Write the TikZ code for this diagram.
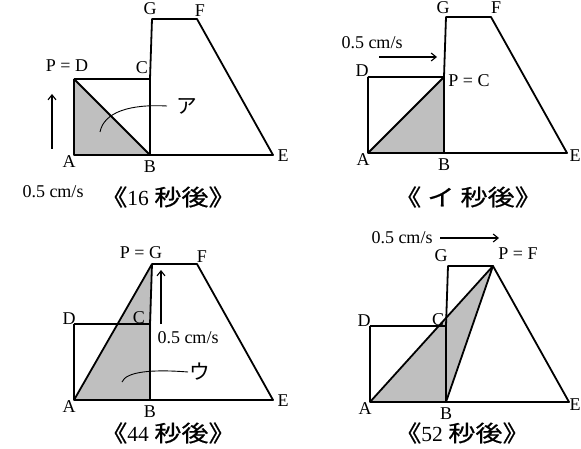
\documentclass[tikz,border=0pt]{standalone}
\usepackage{fontspec}
\setmainfont{Liberation Serif}
\newfontfamily\jp{Noto Sans CJK JP}[Scale=1.15]
\newfontfamily\jpt{Noto Sans CJK JP}[Scale=1.05,FakeStretch=1.2,FakeBold=0.6]
\usetikzlibrary{arrows.meta}

\begin{document}
\begin{tikzpicture}[x=1pt,y=-1pt,font=\fontsize{18}{21}\selectfont,inner sep=0pt,
  edge/.style={line width=1.8pt,line join=round},
  tri/.style={fill=black!25},
  arr/.style={line width=1.1pt,-{Straight Barb[length=5pt,width=8pt]}},
  lead/.style={line width=0.9pt},
  ttl/.style={font=\fontsize{21.5}{24}\selectfont}]
  \useasboundingbox (0,0) rectangle (581,449);

  % the same figure in four places
  \foreach \i/\dx/\dy in {1/0/0,2/294/-2,3/0/245,4/296/247} {
    \coordinate (A\i) at (74+\dx,155+\dy);
    \coordinate (B\i) at (150+\dx,155+\dy);
    \coordinate (E\i) at (273+\dx,155+\dy);
    \coordinate (F\i) at (197+\dx,19+\dy);
    \coordinate (G\i) at (152+\dx,19+\dy);
    \coordinate (C\i) at (150+\dx,79+\dy);
    \coordinate (D\i) at (74+\dx,79+\dy);
  }

  % triangle APB
  \fill[tri] (A1) -- (B1) -- (D1) -- cycle;
  \fill[tri] (A2) -- (B2) -- (C2) -- cycle;
  \fill[tri] (A3) -- (B3) -- (G3) -- cycle;
  \fill[tri] (A4) -- (B4) -- (F4) -- cycle;

  \foreach \i in {1,...,4} {
    \draw[edge] (D\i) -- (A\i) -- (E\i) -- (F\i) -- (G\i) -- (C\i) -- (B\i) (D\i) -- (C\i);
    \node (lA\i) at ([shift={(-5,7)}]A\i) {A};
    \node (lB\i) at ([shift={(0,12)}]B\i) {B};
  }
  \draw[edge] (D1) -- (B1);
  \draw[edge] (A2) -- (C2);
  \draw[edge] (A3) -- (G3);
  \draw[edge] (A4) -- (F4) -- (B4);

  \node (lE1) at ([shift={(10,1)}]E1) {E};
  \node (lE2) at (575,156) {E};
  \node (lE3) at ([shift={(10,1)}]E3) {E};
  \node (lE4) at (575,405) {E};

  % 16 s
  \node (lD1) at (67,66) {P = D};
  \node (lC1) at (142,68) {C};
  \node (lG1) at (150,9) {G};
  \node (lF1) at (200,11) {F};
  \coordinate (s1) at (52,149);
  \coordinate (t1) at (52,94);
  \draw[arr] (s1) -- (t1);
  \node (v1) at (53,192) {0.5 cm/s};
  \node[ttl] (h1) at (168,197) {{\jpt《}16 {\jpt 秒後》}};
  \node[anchor=west,inner xsep=9pt] (ka) at (167,106) {\jp ア};
  \coordinate (k1) at (100,132);
  \draw[lead] (k1) .. controls (104,112) and (130,104) .. (ka.west);

  % I s
  \node (lD2) at (362,71) {D};
  \node (lC2) at (469,81) {P = C};
  \node (lG2) at (443,8) {G};
  \node (lF2) at (496,8) {F};
  \coordinate (s2) at (379,57);
  \coordinate (t2) at (437,57);
  \draw[arr] (s2) -- (t2);
  \node (v2) at (372,43) {0.5 cm/s};
  \node[ttl] (h2) at (468,197) {{\jpt《 イ 秒後》}};

  % 44 s
  \node (lD3) at (69,319) {D};
  \node (lC3) at (139,318) {C};
  \node (lG3) at (141,253) {P = G};
  \node (lF3) at (202,257) {F};
  \coordinate (s3) at (161,324);
  \coordinate (t3) at (161,270);
  \draw[arr] (s3) -- (t3);
  \node (v3) at (188,338) {0.5 cm/s};
  \node[ttl] (h3) at (168,433) {{\jpt《}44 {\jpt 秒後》}};
  \node[anchor=west,inner xsep=1pt] (ku) at (188,372) {\jp ウ};
  \coordinate (k3) at (122,382);
  \draw[lead] (k3) .. controls (126,372) and (150,369) .. (ku.west);

  % 52 s
  \node (lD4) at (364,321) {D};
  \node (lC4) at (438,320) {C};
  \node (lG4) at (441,256) {G};
  \node (lF4) at (518,254) {P = F};
  \coordinate (s4) at (440,238);
  \coordinate (t4) at (499,238);
  \draw[arr] (s4) -- (t4);
  \node (v4) at (402,238) {0.5 cm/s};
  \node[ttl] (h4) at (462,433) {{\jpt《}52 {\jpt 秒後》}};
\end{tikzpicture}
\end{document}
